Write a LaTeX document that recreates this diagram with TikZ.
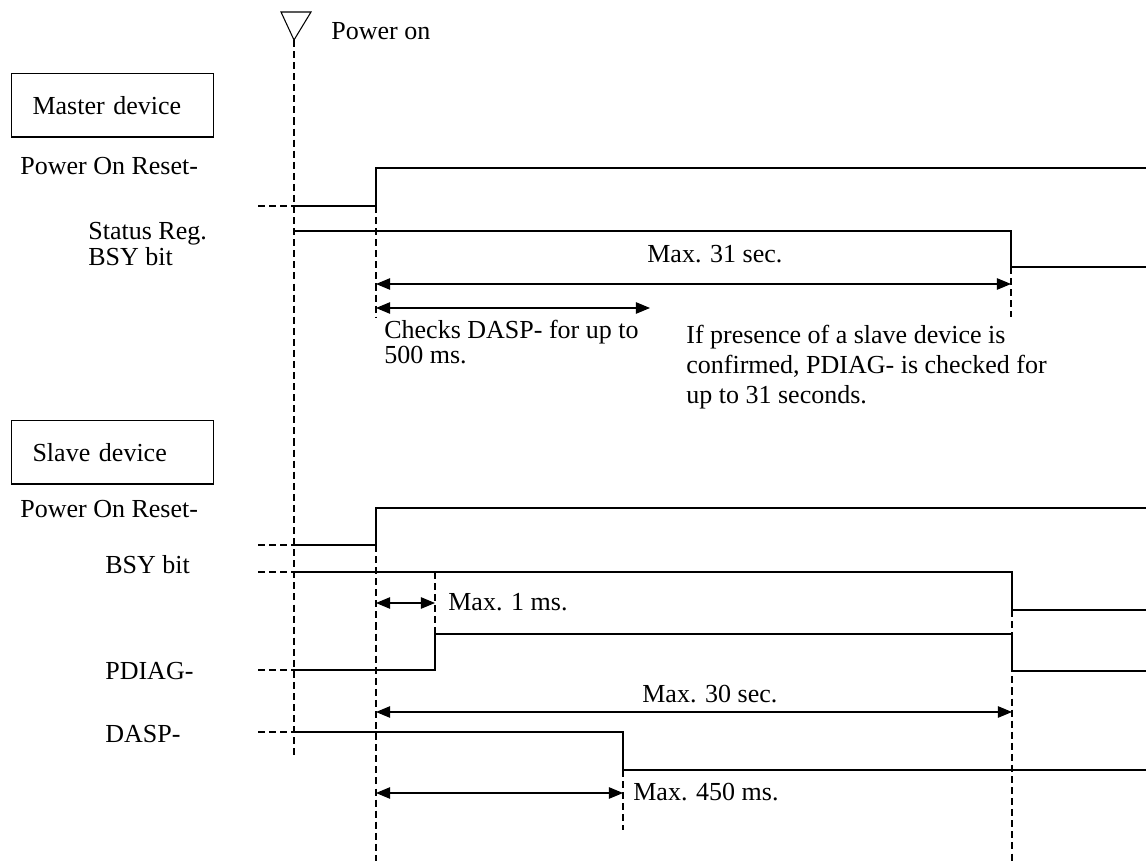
\documentclass[tikz,border=0pt]{standalone}
\usepackage{fontspec}
\setmainfont{Liberation Serif}
\usetikzlibrary{arrows.meta}

\newcommand{\lblfont}{\fontsize{14.8}{17}\selectfont}

\begin{document}
\begin{tikzpicture}[x=0.02cm, y=-0.02cm,
  sig/.style={line width=0.95pt},
  stub/.style={line width=0.95pt, dash pattern=on 4pt off 2.3pt},
  guide/.style={line width=0.9pt, dash pattern=on 4pt off 2.3pt},
  dim/.style={line width=0.65pt, {Triangle[length=8pt,width=6.5pt]}-{Triangle[length=8pt,width=6.5pt]}},
  lbl/.style={anchor=base west, inner sep=0pt, font=\lblfont},
  blk/.style={anchor=north west, inner sep=0pt, align=left, font=\lblfont},
  devbox/.style={draw, line width=0.6pt, anchor=north west, minimum height=1.27cm,
    text width=3.2cm, inner xsep=0.42cm, inner ysep=0pt, font=\lblfont}]
  \useasboundingbox (0,0) rectangle (1146,861);

  % time marks
  \coordinate (t0) at (294,40);
  \coordinate (t0e) at (294,757);

  % power on
  \draw[line width=0.6pt] (281,12) -- (311,12) -- (t0) -- cycle;
  \node[lbl] (pwron) at (331,40) {Power on};
  \draw[guide] (t0) -- (t0e);

  % master device
  \node[devbox] (mdev) at (11,73) {Master device};
  \node[lbl] (mpor) at (20,175) {Power On Reset-};
  \node[blk] (mbsy) at (88,222) {Status Reg.\\[-2.5pt]BSY bit};

  \draw[stub] (258,206) -- (294,206);
  \draw[sig] (294,206) -- (376,206) -- (376,168) -- (1146,168);
  \draw[sig] (294,231) -- (1011,231) -- (1011,267) -- (1146,267);
  \draw[guide] (376,206) -- (376,318);
  \draw[guide] (1011,267) -- (1011,317);

  \coordinate (m31a) at (376,284);
  \coordinate (m31b) at (1011,284);
  \coordinate (chka) at (376,308);
  \coordinate (chkb) at (650,308);
  \draw[dim] (m31a) -- (m31b);
  \node[lbl] (l31) at (647,263) {Max. 31 sec.};
  \draw[dim] (chka) -- (chkb);
  \node[blk] (lchk) at (384,320) {Checks DASP- for up to\\[-3pt]500 ms.};
  \node[blk] (lif) at (686,325) {If presence of a slave device is\\confirmed, PDIAG- is checked for\\up to 31 seconds.};

  % slave device
  \node[devbox] (sdev) at (11,420) {Slave device};
  \node[lbl] (spor) at (20,517) {Power On Reset-};
  \node[lbl] (sbsy) at (105,573) {BSY bit};
  \node[lbl] (spdiag) at (105,679) {PDIAG-};
  \node[lbl] (sdasp) at (105,742) {DASP-};

  \foreach \y in {545,572,670,732}
    \draw[stub] (258,\y) -- (294,\y);
  \draw[sig] (294,545) -- (376,545) -- (376,508) -- (1146,508);
  \draw[sig] (294,572) -- (1012,572) -- (1012,610) -- (1146,610);
  \draw[sig] (294,670) -- (435,670) -- (435,634) -- (1012,634) -- (1012,671) -- (1146,671);
  \draw[sig] (294,732) -- (623,732) -- (623,770) -- (1146,770);

  \draw[guide] (376,545) -- (376,861);
  \draw[guide] (435,572) -- (435,634);
  \draw[guide] (623,770) -- (623,830);
  \draw[guide] (1012,610) -- (1012,861);

  \coordinate (m1a) at (376,603);
  \coordinate (m1b) at (435,603);
  \coordinate (m30a) at (376,712);
  \coordinate (m30b) at (1012,712);
  \coordinate (m450a) at (376,793);
  \coordinate (m450b) at (623,793);
  \draw[dim] (m1a) -- (m1b);
  \node[lbl] (l1ms) at (448,610) {Max. 1 ms.};
  \draw[dim] (m30a) -- (m30b);
  \node[lbl] (l30) at (642,702) {Max. 30 sec.};
  \draw[dim] (m450a) -- (m450b);
  \node[lbl] (l450) at (633,800) {Max. 450 ms.};
\end{tikzpicture}
\end{document}
